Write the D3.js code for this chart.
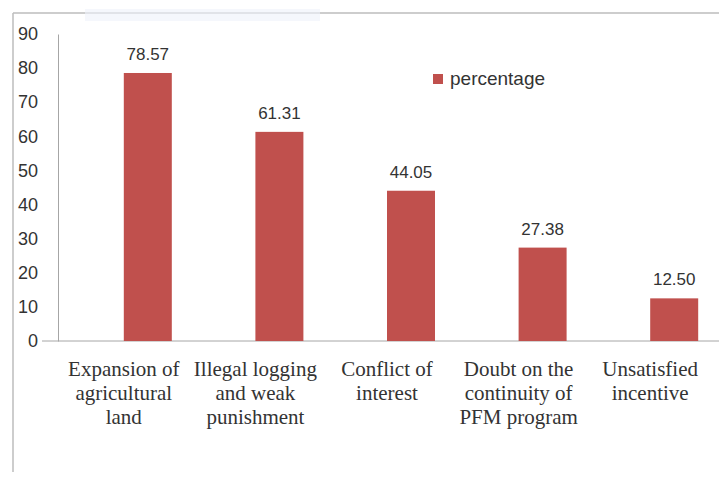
<!DOCTYPE html>
<html>
<head>
<meta charset="utf-8">
<script src="https://cdn.jsdelivr.net/npm/d3@7"></script>
<style>
  body { margin: 0; background: #fff; }
  svg { display: block; }
</style>
</head>
<body>
<svg id="chart" width="719" height="479"></svg>
<script>
const categories = [
    ['Expansion of', 'agricultural', 'land'],
    ['Illegal logging', 'and weak', 'punishment'],
    ['Conflict of', 'interest'],
    ['Doubt on the', 'continuity of', 'PFM program'],
    ['Unsatisfied', 'incentive']
];
const percentage = [78.57, 61.31, 44.05, 27.38, 12.50];
const yTicks = [0, 10, 20, 30, 40, 50, 60, 70, 80, 90];
const seriesName = 'percentage';

const svg = d3.select('#chart');
const barColor = '#C0504D';
const sans = 'Liberation Sans, Arial, sans-serif';

// outer frame (chart is cropped at right and bottom)
svg.append('line')
    .attr('x1', 13).attr('x2', 719).attr('y1', 13).attr('y2', 13)
    .attr('stroke', '#bdbdbd').attr('stroke-width', 1.5);
svg.append('line')
    .attr('x1', 13).attr('x2', 13).attr('y1', 13).attr('y2', 472)
    .attr('stroke', '#bdbdbd').attr('stroke-width', 1.5);

// washed-out title remnant
svg.append('rect')
    .attr('x', 85).attr('y', 9).attr('width', 235).attr('height', 12)
    .attr('fill', '#eef2fa').attr('opacity', 0.6);

const x = d3.scaleBand()
    .domain(d3.range(categories.length))
    .range([58, 716]);

const y = d3.scaleLinear()
    .domain([0, 90])
    .range([341, 34]);

const barWidth = 48;
const barShift = 24; // bars sit right of the category centre

// y axis
const yAxis = svg.append('g')
    .attr('transform', 'translate(58,0)')
    .call(d3.axisLeft(y).tickValues(yTicks).tickSize(0).tickPadding(20));
yAxis.select('.domain').attr('stroke', '#a6a6a6');
yAxis.selectAll('text')
    .attr('font-family', sans)
    .attr('font-size', '18px')
    .attr('fill', '#333');

// baseline
svg.append('line')
    .attr('x1', 42).attr('x2', 719)
    .attr('y1', y(0)).attr('y2', y(0))
    .attr('stroke', '#a6a6a6').attr('stroke-width', 1);

// bars
svg.append('g').selectAll('rect')
    .data(percentage)
    .join('rect')
    .attr('x', (d, i) => x(i) + x.bandwidth() / 2 + barShift - barWidth / 2)
    .attr('y', d => y(d))
    .attr('width', barWidth)
    .attr('height', d => y(0) - y(d))
    .attr('fill', barColor);

// value labels
svg.append('g').selectAll('text')
    .data(percentage)
    .join('text')
    .attr('x', (d, i) => x(i) + x.bandwidth() / 2 + barShift)
    .attr('y', d => y(d) - 13)
    .attr('text-anchor', 'middle')
    .attr('font-family', sans)
    .attr('font-size', '17px')
    .attr('fill', '#333')
    .text(d => d.toFixed(2));

// category labels
const catGroup = svg.append('g');
categories.forEach((lines, i) => {
    const cx = x(i) + x.bandwidth() / 2;
    const t = catGroup.append('text')
        .attr('x', cx)
        .attr('y', 376)
        .attr('text-anchor', 'middle')
        .attr('font-family', 'Liberation Serif, Times New Roman, serif')
        .attr('font-size', '21px')
        .attr('fill', '#333');
    lines.forEach((line, j) => {
        t.append('tspan')
            .attr('x', cx)
            .attr('dy', j === 0 ? 0 : 24)
            .text(line);
    });
});

// legend
const legend = svg.append('g').attr('transform', 'translate(433,74)');
legend.append('rect')
    .attr('width', 10).attr('height', 10)
    .attr('fill', barColor);
legend.append('text')
    .attr('x', 17).attr('y', 11)
    .attr('font-family', sans)
    .attr('font-size', '19px')
    .attr('fill', '#333')
    .text(seriesName);
</script>
</body>
</html>
